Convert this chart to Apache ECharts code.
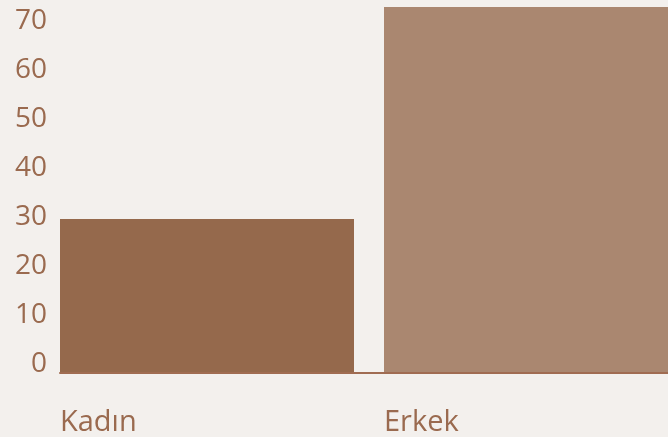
<!DOCTYPE html>
<html>
<head>
<meta charset="utf-8">
<script src="https://cdn.jsdelivr.net/npm/echarts@6/dist/echarts.min.js"></script>
<style>
  html, body { margin: 0; padding: 0; background: #f3f0ed; }
  #chart { width: 668px; height: 437px; }
</style>
</head>
<body>
<div id="chart"></div>
<script>
  // data
  var categories = ['Kadın', 'Erkek']
  var values = [31.4, 74.6]
  var barColors = ['#95694c', '#aa8770']
  var yTicks = [0, 10, 20, 30, 40, 50, 60, 70]

  var textColor = '#9a6a4f'
  var chart = echarts.init(document.getElementById('chart'))

  var option = {
    backgroundColor: '#f3f0ed',
    animation: false,
    textStyle: { fontFamily: 'Open Sans' },
    // grid runs past the right edge so the second band is cut like the original
    grid: { left: 60, width: 648, top: 5, bottom: 64, outerBoundsMode: 'none' },
    xAxis: {
      type: 'category',
      data: categories,
      z: 3,
      axisLine: { lineStyle: { color: '#a06c52', width: 2 } },
      axisTick: { show: false },
      axisLabel: {
        interval: 0,
        margin: 35,
        align: 'center',
        formatter: function (v) { return '{a|' + v + '}' },
        rich: {
          a: { width: 324, align: 'left', color: textColor, fontSize: 29, fontFamily: 'Open Sans' }
        }
      }
    },
    yAxis: {
      type: 'value',
      min: 0,
      max: 75,
      interval: 10,
      axisLine: { show: false },
      axisTick: { show: false },
      splitLine: { show: false },
      axisLabel: {
        margin: 13,
        showMaxLabel: false,
        formatter: function (v) { return yTicks.indexOf(v) >= 0 ? '{a|' + v + '}' : '' },
        rich: {
          a: { color: textColor, fontSize: 28, fontFamily: 'Open Sans', padding: [0, 0, 18, 0] }
        }
      }
    },
    series: [
      {
        type: 'bar',
        barWidth: 294,
        barGap: 0,
        data: values.map(function (v, i) {
          return { value: v, itemStyle: { color: barColors[i] } }
        })
      },
      {
        // empty spacer so the real bar sits at the start of its band
        type: 'bar',
        barWidth: 30,
        barGap: 0,
        data: [null, null]
      }
    ]
  }
  chart.setOption(option)
</script>
</body>
</html>
